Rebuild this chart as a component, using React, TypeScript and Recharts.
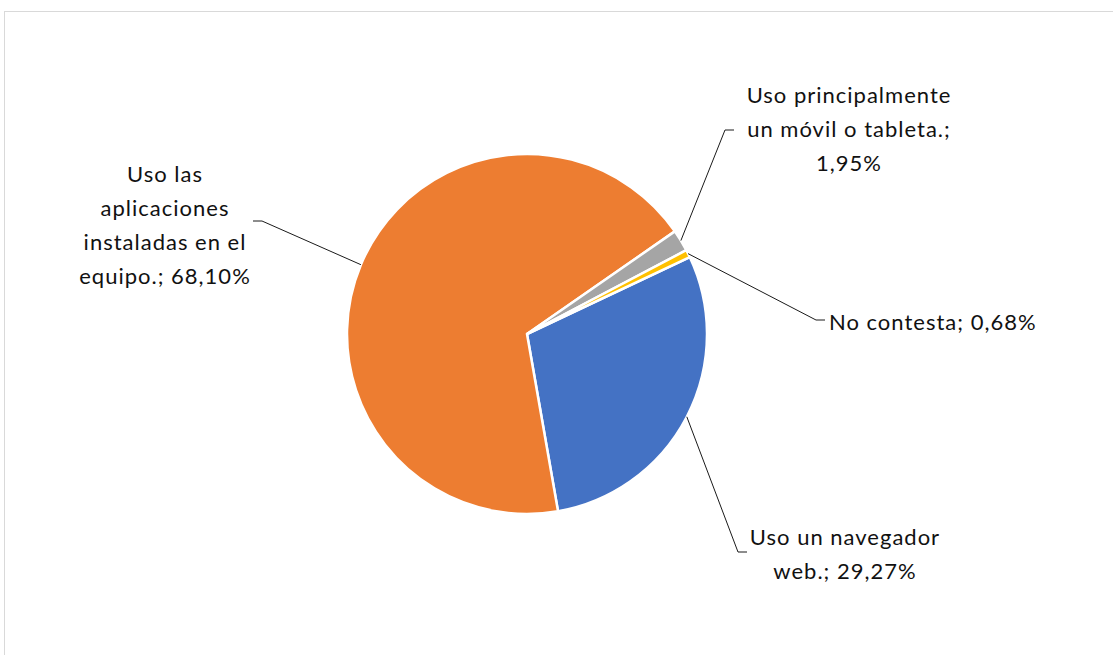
import { PieChart, Pie, Cell } from 'recharts';

const categories = [
  'Uso un navegador web.',
  'Uso las aplicaciones instaladas en el equipo.',
  'Uso principalmente un móvil o tableta.',
  'No contesta',
];
const values = [29.27, 68.1, 1.95, 0.68];
const colors = ['#4472C4', '#ED7D31', '#A5A5A5', '#FFC000'];

// max characters per label line before wrapping
const wrapWidths = [16, 16, 20, 30];

// hand-placed callouts, offsets from the pie centre:
// elbow of the leader line, side of the short tail, text block centre x, first baseline y
const calloutLayout = [
  { ex: 211, ey: 218, side: 1, tx: 318, ty: 211 },
  { ex: -265, ey: -113, side: -1, tx: -362, ty: -152 },
  { ex: 198, ey: -204, side: 1, tx: 322, ty: -231 },
  { ex: 289, ey: -14, side: 1, tx: 0, ty: -3 },
];

const data = categories.map((name, i) => ({ name, value: values[i] }));

const RAD = Math.PI / 180;
const LINE_H = 34;

function wrap(text: string, width: number) {
  const lines: string[] = [];
  let cur = '';
  text.split(' ').forEach((w) => {
    const next = cur ? cur + ' ' + w : w;
    if (next.length > width && cur) {
      lines.push(cur);
      cur = w;
    } else {
      cur = next;
    }
  });
  if (cur) lines.push(cur);
  return lines;
}

const fmt = (v: number) => v.toFixed(2).replace('.', ',') + '%';

const renderCallout = (props: any) => {
  const { cx, cy, midAngle, outerRadius, index } = props;
  const c = calloutLayout[index];
  const sx = cx + outerRadius * Math.cos(-midAngle * RAD);
  const sy = cy + outerRadius * Math.sin(-midAngle * RAD);
  const ex = cx + c.ex;
  const ey = cy + c.ey;
  const tailX = ex + c.side * 9;
  const lines = wrap(`${categories[index]}; ${fmt(values[index])}`, wrapWidths[index]);
  const single = lines.length === 1;
  const x = single ? tailX + 4 : cx + c.tx;
  return (
    <g>
      <polyline
        points={`${sx},${sy} ${ex},${ey} ${tailX},${ey}`}
        fill="none"
        stroke="#1a1a1a"
        strokeWidth={1}
      />
      <text
        x={x}
        y={single ? ey + 10 : cy + c.ty}
        textAnchor={single ? 'start' : 'middle'}
        fill="#111"
        fontSize={22}
        letterSpacing={1}
        fontFamily="Lato, 'Open Sans', sans-serif"
      >
        {lines.map((l, i) => (
          <tspan key={i} x={x} dy={i === 0 ? 0 : LINE_H}>
            {l}
          </tspan>
        ))}
      </text>
    </g>
  );
};

export default function App() {
  return (
    <div
      style={{
        position: 'absolute',
        left: 0,
        top: 0,
        width: 1113,
        height: 655,
        background: '#fff',
        overflow: 'hidden',
      }}
    >
      <div
        style={{
          position: 'absolute',
          left: 4,
          top: 11,
          width: 1200,
          height: 700,
          border: '1px solid #d9d9d9',
        }}
      />
      <div style={{ position: 'absolute', left: 0, top: 0 }}>
        <PieChart width={1113} height={655} margin={{ top: 0, right: 0, bottom: 0, left: 0 }}>
          <Pie
            data={data}
            dataKey="value"
            nameKey="name"
            cx={527}
            cy={334}
            outerRadius={180}
            startAngle={25.3}
            endAngle={-334.7}
            stroke="#fff"
            strokeWidth={2.5}
            label={renderCallout}
            labelLine={false}
            isAnimationActive={false}
          >
            {data.map((d, i) => (
              <Cell key={d.name} fill={colors[i]} />
            ))}
          </Pie>
        </PieChart>
      </div>
    </div>
  );
}
